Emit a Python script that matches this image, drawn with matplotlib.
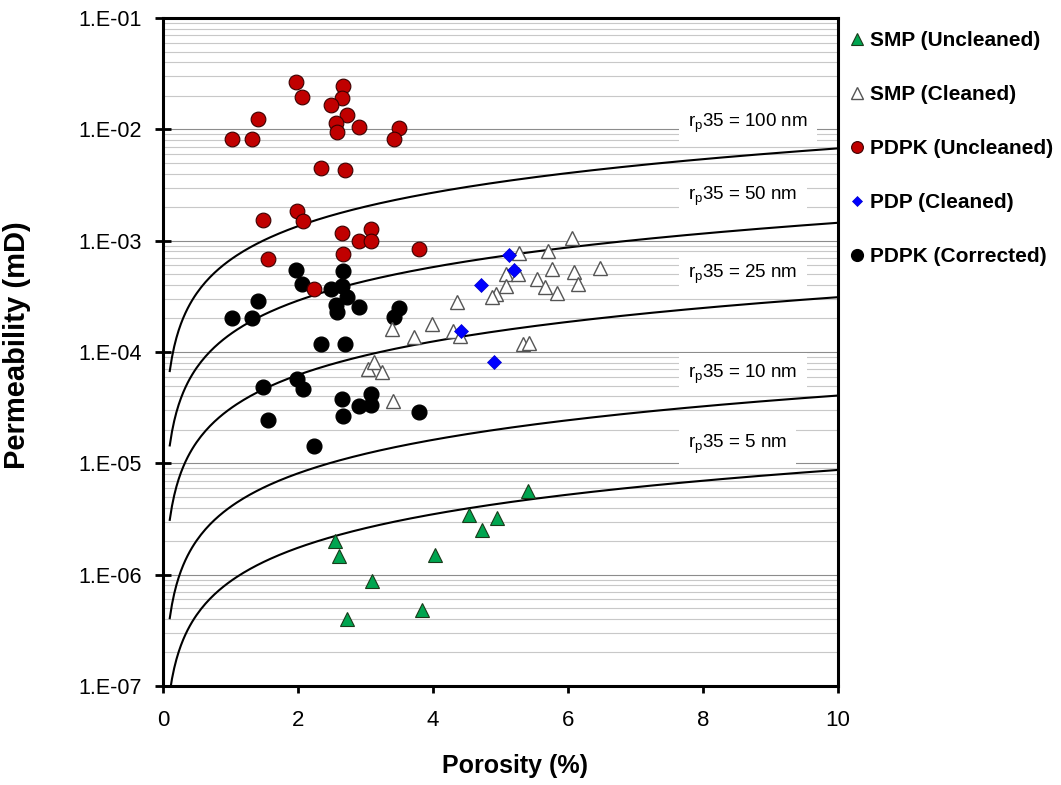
import numpy as np
import matplotlib
matplotlib.use("Agg")
import matplotlib.pyplot as plt
from matplotlib.ticker import FixedLocator, FuncFormatter, NullFormatter

plt.rcParams['font.family'] = ['Liberation Sans', 'DejaVu Sans']
plt.rcParams['mathtext.default'] = 'regular'

# --- datos (porosidad %, permeabilidad mD) ---
smp_uncl_phi = [2.55, 2.60, 3.09, 2.72, 3.83, 4.03, 4.54, 4.73, 4.95, 5.40]
smp_uncl_k = [2.0e-6, 1.47e-6, 8.7e-7, 4.0e-7, 4.8e-7, 1.5e-6, 3.4e-6, 2.5e-6, 3.2e-6, 5.6e-6]

smp_cl_phi = [6.06, 5.71, 5.27, 5.76, 6.09, 6.47, 5.08, 5.26, 5.54, 6.15, 5.08, 5.66, 5.83,
              4.93, 4.88, 4.36, 3.98, 4.29, 4.40, 3.72, 3.39, 5.34, 5.42, 3.03, 3.13, 3.24, 3.41]
smp_cl_k = [1.05e-3, 8.1e-4, 7.8e-4, 5.6e-4, 5.2e-4, 5.7e-4, 5.0e-4, 5.0e-4, 4.5e-4, 4.1e-4,
            3.9e-4, 3.8e-4, 3.4e-4, 3.3e-4, 3.1e-4, 2.8e-4, 1.8e-4, 1.55e-4, 1.4e-4, 1.35e-4,
            1.6e-4, 1.18e-4, 1.21e-4, 7.1e-5, 8.2e-5, 6.6e-5, 3.6e-5]

pdpk_uncl_phi = [1.97, 2.67, 2.06, 2.65, 2.49, 2.73, 1.41, 2.57, 2.90, 3.49, 2.58, 1.02, 1.32,
                 3.42, 2.34, 2.70, 1.98, 1.48, 2.07, 2.65, 3.08, 2.90, 3.08, 3.79, 2.67, 1.56, 2.24]
pdpk_uncl_k = [2.64e-2, 2.45e-2, 1.94e-2, 1.90e-2, 1.64e-2, 1.35e-2, 1.24e-2, 1.13e-2, 1.05e-2,
               1.03e-2, 9.5e-3, 8.2e-3, 8.2e-3, 8.2e-3, 4.47e-3, 4.34e-3, 1.86e-3, 1.53e-3,
               1.49e-3, 1.18e-3, 1.26e-3, 1.0e-3, 9.9e-4, 8.4e-4, 7.6e-4, 6.8e-4, 3.65e-4]

pdp_cl_phi = [5.12, 5.20, 4.71, 4.41, 4.91]
pdp_cl_k = [7.4e-4, 5.4e-4, 4.0e-4, 1.55e-4, 8.2e-5]

pdpk_corr_phi = [1.97, 2.67, 2.06, 2.49, 2.65, 2.73, 1.41, 2.57, 2.90, 3.49, 2.58, 1.02, 1.32,
                 3.42, 2.34, 2.70, 1.98, 1.48, 2.07, 2.65, 3.08, 2.90, 3.08, 3.79, 2.67, 1.56, 2.24]
pdpk_corr_k = [5.5e-4, 5.3e-4, 4.05e-4, 3.67e-4, 3.9e-4, 3.1e-4, 2.88e-4, 2.66e-4, 2.52e-4,
               2.47e-4, 2.3e-4, 2.03e-4, 2.03e-4, 2.05e-4, 1.19e-4, 1.18e-4, 5.7e-5, 4.8e-5,
               4.7e-5, 3.8e-5, 4.16e-5, 3.3e-5, 3.36e-5, 2.88e-5, 2.65e-5, 2.43e-5, 1.44e-5]

# curvas de igual rp35 (nm): k = phi * r^2.22 * 10^-7.611
rp35_nm = [100, 50, 25, 10, 5]
rp35_lbl_k = [1.12e-2, 2.48e-3, 5.0e-4, 6.3e-5, 1.48e-5]
phi_curva = np.linspace(0.1, 10, 300)

decadas = [1e-7, 1e-6, 1e-5, 1e-4, 1e-3, 1e-2, 1e-1]

fig = plt.figure(figsize=(10.61, 7.85), dpi=100)
ax = fig.add_axes([163 / 1061, 99 / 785, 675 / 1061, 668 / 785])

ax.set_yscale('log')
ax.set_xlim(0, 10)
ax.set_ylim(1e-7, 1e-1)

# lineas de rejilla horizontales
menores = [d * m for d in decadas[:-1] for m in range(2, 10)]
ax.yaxis.set_major_locator(FixedLocator(decadas))
ax.yaxis.set_minor_locator(FixedLocator(menores))
ax.yaxis.set_minor_formatter(NullFormatter())
ax.yaxis.set_major_formatter(FuncFormatter(lambda v, p: "1.E%03d" % int(round(np.log10(v)))))
ax.grid(True, which='major', axis='y', color='#8c8c8c', lw=0.8, zorder=0)
ax.grid(True, which='minor', axis='y', color='#c8c8c8', lw=0.8, zorder=0)
ax.set_axisbelow(True)

for r in rp35_nm:
    k = phi_curva * r ** 2.22 * 10 ** -7.611
    ax.plot(phi_curva, k, color='black', lw=1.5, zorder=2)

for r, ky in zip(rp35_nm, rp35_lbl_k):
    ax.text(7.78, ky, r'r$_p$35 = %d nm' % r, fontsize=13.5, ha='left', va='center', zorder=1.5,
            bbox=dict(boxstyle='square,pad=0.5', fc='white', ec='none'))

ax.plot(pdpk_corr_phi, pdpk_corr_k, 'o', ls='none', ms=10.6, mfc='black', mec='black',
        label='PDPK (Corrected)', zorder=3)
ax.plot(pdpk_uncl_phi, pdpk_uncl_k, 'o', ls='none', ms=10.6, mfc='#c00000', mec='#3a0000',
        mew=0.8, label='PDPK (Uncleaned)', zorder=3)
ax.plot(smp_cl_phi, smp_cl_k, '^', ls='none', ms=10, mfc='white', mec='#555555',
        mew=1.0, label='SMP (Cleaned)', zorder=3)
ax.plot(pdp_cl_phi, pdp_cl_k, 'D', ls='none', ms=6.8, mfc='#0000ff', mec='#0000cc',
        mew=0.5, label='PDP (Cleaned)', zorder=4)
ax.plot(smp_uncl_phi, smp_uncl_k, '^', ls='none', ms=10, mfc='#00a550', mec='#1a3a1a',
        mew=0.8, label='SMP (Uncleaned)', zorder=3)

ax.set_xticks([0, 2, 4, 6, 8, 10])
ax.tick_params(axis='x', direction='out', length=5, width=2, labelsize=16, pad=12)
ax.tick_params(axis='y', which='major', direction='inout', length=11, width=2,
               labelsize=15.5, pad=10)
ax.tick_params(axis='y', which='minor', length=0)
for s in ax.spines.values():
    s.set_linewidth(2.2)
    s.set_color('black')

ax.set_xlabel('Porosity (%)', fontsize=18, fontweight='bold')
ax.xaxis.set_label_coords(0.521, -0.102)
ax.set_ylabel('Permeability (mD)', fontsize=21, fontweight='bold')
ax.yaxis.set_label_coords(-0.195, 0.51)

h, l = ax.get_legend_handles_labels()
orden = [4, 2, 1, 3, 0]
ax.legend([h[i] for i in orden], [l[i] for i in orden], loc='upper left',
          bbox_to_anchor=(851 / 1061, 1 - 31 / 785), bbox_transform=fig.transFigure,
          frameon=False, prop={'weight': 'bold', 'size': 15}, labelspacing=1.68,
          handlelength=0.6, handletextpad=0.3, borderpad=0, borderaxespad=0,
          markerscale=0.8)

fig.savefig('out.png', dpi=100)
